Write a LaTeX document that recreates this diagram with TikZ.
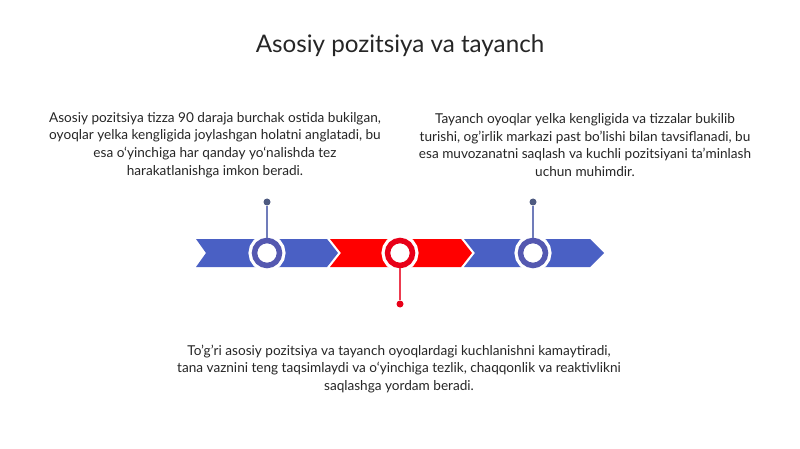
\documentclass[tikz,border=0pt]{standalone}
\usepackage{fontspec}
\setmainfont{Lato}
\definecolor{bandblue}{RGB}{74,96,196}
\definecolor{ringblue}{RGB}{84,88,176}
\definecolor{pinblue}{RGB}{112,124,186}
\definecolor{dotblue}{RGB}{78,90,128}
\definecolor{bandred}{RGB}{255,0,0}
\definecolor{ringred}{RGB}{232,0,24}
\definecolor{pinred}{RGB}{236,60,80}
\definecolor{txtgray}{RGB}{38,38,38}

\begin{document}
\begin{tikzpicture}[x=1pt,y=-1pt,
  ring/.style={circle,fill=white,draw,line width=5.5pt,minimum size=25pt,inner sep=0pt,
    preaction={draw=white,line width=12pt}},
  pin/.style={circle,minimum size=7pt,inner sep=0pt},
  desc/.style={align=center,text=txtgray,font=\fontsize{13.6}{17.6}\selectfont}]
\useasboundingbox[fill=white] (0,0) rectangle (800,449);
% title
\node[text=txtgray,font=\fontsize{24.2}{28}\selectfont] (title) at (400,46) {Asosiy pozitsiya va tayanch};
% chevron band
\fill[bandblue] (196,239) -- (327,239) -- (338,253) -- (327,267) -- (196,267) -- (206,253) -- cycle;
\fill[bandred] (330,239) -- (461,239) -- (472,253) -- (461,267) -- (330,267) -- (341,253) -- cycle;
\fill[bandblue] (464,239) -- (590,239) -- (604,253) -- (590,267) -- (464,267) -- (475,253) -- cycle;
% rings
\node[ring,draw=ringblue] (c1) at (267,253) {};
\node[ring,draw=ringred] (c2) at (400,253) {};
\node[ring,draw=ringblue] (c3) at (533,253) {};
% pins
\node[pin,fill=dotblue] (p1) at (267,202) {};
\node[pin,fill=ringred] (p2) at (400,304) {};
\node[pin,fill=dotblue] (p3) at (533,202) {};
\path[draw,pinblue,line width=1.4pt](p1) -- (c1);
\path[draw,pinred,line width=1.4pt](p2) -- (c2);
\path[draw,pinblue,line width=1.4pt](p3) -- (c3);
% texts
\node[desc] (t1) at (215,145) {Asosiy pozitsiya tizza 90 daraja burchak ostida bukilgan,\\oyoqlar yelka kengligida joylashgan holatni anglatadi, bu\\esa o‘yinchiga har qanday yo‘nalishda tez\\harakatlanishga imkon beradi.};
\node[desc] (t3) at (585,145) {Tayanch oyoqlar yelka kengligida va tizzalar bukilib\\turishi, og'irlik markazi past bo'lishi bilan tavsiflanadi, bu\\esa muvozanatni saqlash va kuchli pozitsiyani ta'minlash\\uchun muhimdir.};
\node[desc] (t2) at (399,369) {To'g'ri asosiy pozitsiya va tayanch oyoqlardagi kuchlanishni kamaytiradi,\\tana vaznini teng taqsimlaydi va o‘yinchiga tezlik, chaqqonlik va reaktivlikni\\saqlashga yordam beradi.};
\end{tikzpicture}
\end{document}
